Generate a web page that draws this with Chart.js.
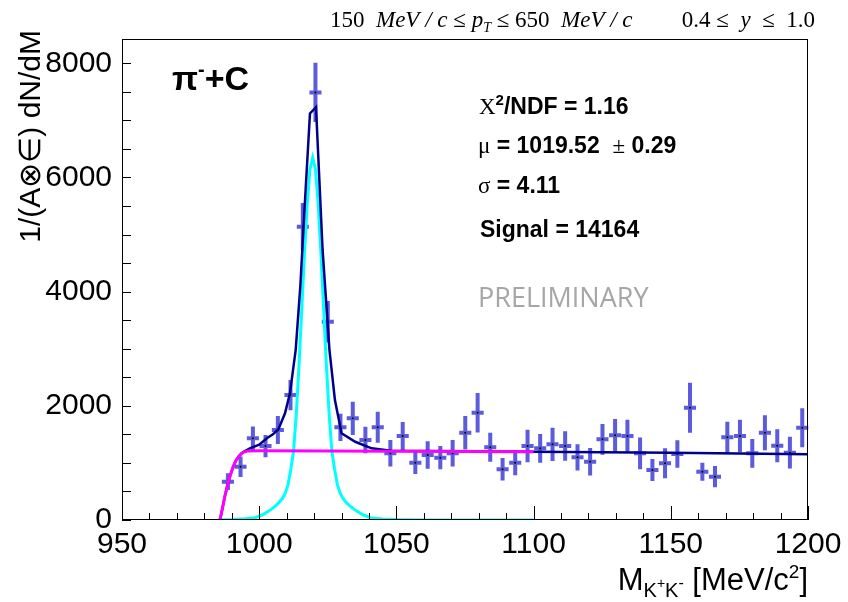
<!DOCTYPE html>
<html>
<head>
<meta charset="utf-8">
<script src="https://cdn.jsdelivr.net/npm/chart.js@4.4.0/dist/chart.umd.min.js"></script>
<style>
  body { margin: 0; background: #fff; }
</style>
</head>
<body>
<canvas id="massChart" width="848" height="602"></canvas>
<script>
// K+K- invariant mass histogram (bin centres in MeV/c^2)
const binCenters = [988.6, 993.2, 997.7, 1002.3, 1006.8, 1011.4, 1015.9, 1020.5, 1025.0, 1029.6,
  1034.1, 1038.7, 1043.2, 1047.8, 1052.3, 1056.9, 1061.4, 1066.0, 1070.5, 1075.1,
  1079.6, 1084.2, 1088.7, 1093.3, 1097.8, 1102.4, 1106.9, 1111.5, 1116.0, 1120.6,
  1125.1, 1129.7, 1134.2, 1138.8, 1143.3, 1147.9, 1152.4, 1157.0, 1161.5, 1166.1,
  1170.6, 1175.2, 1179.7, 1184.3, 1188.8, 1193.4, 1197.9];
const binHalfWidth = 2.2;
const counts = [671, 934, 1431, 1296, 1576, 2189, 5137, 7490, 3473, 1623,
  1781, 1401, 1623, 1168, 1471, 1003, 1138, 1091, 1168, 1529,
  1879, 1273, 888, 1003, 1296, 1255, 1325, 1296, 1097, 1021,
  1413, 1483, 1471, 1168, 876, 993, 1156, 1967, 846, 759,
  1448, 1471, 1168, 1529, 1301, 1179, 1617];
const countErrors = [146, 180, 205, 195, 245, 265, 415, 517, 365, 240,
  290, 233, 271, 233, 245, 198, 240, 204, 233, 292,
  345, 254, 196, 219, 286, 251, 292, 257, 231, 240,
  268, 284, 284, 277, 193, 263, 242, 438, 158, 187,
  271, 286, 251, 306, 289, 277, 341];

// fit curves
const signalX = [985, 990, 995, 998.5, 1001.5, 1004.5, 1006.5, 1008.5, 1009.5, 1010.5,
  1011.5, 1012.5, 1013.5, 1014.5, 1015.5, 1016.5, 1017.5, 1018.5, 1019.5, 1020.5,
  1021.5, 1022.5, 1023.5, 1024.5, 1025.5, 1026.5, 1027.5, 1028.5, 1029.5, 1030.5,
  1031.5, 1032.5, 1034.5, 1037.5, 1040.5, 1045, 1050, 1060, 1070, 1100];
const signalY = [5, 9, 22, 40, 100, 190, 270, 380, 470, 620,
  880, 1200, 1850, 2700, 3680, 4670, 5540, 6140, 6350, 6140,
  5540, 4670, 3680, 2700, 1850, 1200, 880, 620, 470, 380,
  320, 270, 190, 100, 40, 16, 7, 2, 0.5, 0];

const bkgX = [985.7, 986.5, 987.5, 988.5, 989.5, 990.5, 991.5, 992.5, 993.5, 994.5,
  996, 1000, 1050, 1100];
const bkgY = [0, 180, 420, 620, 790, 930, 1040, 1110, 1160, 1190,
  1210, 1212, 1206, 1195];

const totalX = [985.7, 986.5, 987.5, 988.5, 989.5, 990.5, 991.5, 992.5, 993.5, 994.5,
  996.6, 1000, 1002.8, 1005, 1007, 1009.4, 1011.2, 1013.3, 1015.0, 1016.7,
  1018.5, 1020.7, 1023.1, 1025.6, 1027.6, 1030, 1035, 1041, 1048, 1060,
  1080, 1100, 1150, 1200];
const totalY = [0, 180, 420, 620, 790, 930, 1040, 1110, 1165, 1200,
  1255, 1320, 1431, 1500, 1590, 1868, 2219, 2980, 4100, 5600,
  7120, 7230, 4730, 2980, 2100, 1520, 1370, 1255, 1212, 1207,
  1203, 1195, 1176, 1150];

const xTickLabels = [950, 1000, 1050, 1100, 1150, 1200];
const yTickLabels = [0, 2000, 4000, 6000, 8000];

const SANS = "'Liberation Sans', Arial, sans-serif";
const SERIF = "'Liberation Serif', 'Times New Roman', serif";

function toPoints(xs, ys) {
  return xs.map((x, i) => ({ x: x, y: ys[i] }));
}

function drawRich(ctx, x, y, parts, align) {
  let w = 0;
  parts.forEach(p => { ctx.font = p[1]; w += ctx.measureText(p[0]).width; });
  let cx = x;
  if (align === 'right') cx = x - w;
  if (align === 'center') cx = x - w / 2;
  parts.forEach(p => {
    ctx.font = p[1];
    ctx.fillText(p[0], cx, y + (p[2] || 0));
    cx += ctx.measureText(p[0]).width;
  });
}

// error bars drawn under the fit curves
const errorBars = {
  id: 'errorBars',
  beforeDatasetsDraw(chart) {
    const ctx = chart.ctx, xs = chart.scales.x, ys = chart.scales.y;
    ctx.save();
    ctx.strokeStyle = 'rgba(62, 62, 214, 0.85)';
    ctx.lineWidth = 4;
    ctx.lineCap = 'butt';
    for (let i = 0; i < counts.length; i++) {
      const px = xs.getPixelForValue(binCenters[i]);
      const py = ys.getPixelForValue(counts[i]);
      ctx.beginPath();
      ctx.moveTo(px, ys.getPixelForValue(counts[i] - countErrors[i]));
      ctx.lineTo(px, ys.getPixelForValue(counts[i] + countErrors[i]));
      ctx.moveTo(xs.getPixelForValue(binCenters[i] - binHalfWidth), py);
      ctx.lineTo(xs.getPixelForValue(binCenters[i] + binHalfWidth), py);
      ctx.stroke();
    }
    ctx.restore();
  }
};

// ROOT style frame, inward ticks and all the labels
const frameAndText = {
  id: 'frameAndText',
  afterDraw(chart) {
    const ctx = chart.ctx, xs = chart.scales.x, ys = chart.scales.y;
    const a = chart.chartArea;
    ctx.save();
    ctx.strokeStyle = '#000';
    ctx.lineWidth = 1;
    ctx.strokeRect(a.left + 0.5, a.top + 0.5, a.right - a.left - 1, a.bottom - a.top - 1);

    ctx.beginPath();
    for (let v = 950; v <= 1200; v += 10) {
      const px = Math.round(xs.getPixelForValue(v)) + 0.5;
      const len = (v % 50 === 0) ? 14 : 7;
      ctx.moveTo(px, a.bottom);
      ctx.lineTo(px, a.bottom - len);
    }
    for (let v = 0; v <= 8000; v += 500) {
      const py = Math.round(ys.getPixelForValue(v)) + 0.5;
      ctx.moveTo(a.left, py);
      ctx.lineTo(a.left + 9, py);
    }
    ctx.stroke();

    ctx.fillStyle = '#000';
    ctx.font = '30px ' + SANS;
    ctx.textAlign = 'center';
    ctx.textBaseline = 'alphabetic';
    xTickLabels.forEach(v => ctx.fillText(String(v), xs.getPixelForValue(v), 553));
    ctx.textAlign = 'right';
    ctx.textBaseline = 'middle';
    yTickLabels.forEach(v => ctx.fillText(String(v), 112, ys.getPixelForValue(v)));

    ctx.textAlign = 'left';
    ctx.textBaseline = 'alphabetic';

    // axis titles
    drawRich(ctx, 808, 590, [
      ['M', '31px ' + SANS],
      ['K', '20px ' + SANS, 7],
      ['+', '14px ' + SANS, -2],
      ['K', '20px ' + SANS, 7],
      ['-', '16px ' + SANS, -2],
      [' [MeV/c', '31px ' + SANS],
      ['2', '19px ' + SANS, -12],
      [']', '31px ' + SANS]
    ], 'right');

    ctx.save();
    ctx.translate(40, 30);
    ctx.rotate(-Math.PI / 2);
    drawRich(ctx, 0, 0, [['1/(A\u2297\u2208) dN/dM', '30px ' + SANS]], 'right');
    ctx.restore();

    // kinematic range on top
    drawRich(ctx, 330, 27, [
      ['150  ', '23px ' + SERIF],
      ['MeV / c', 'italic 23px ' + SERIF],
      [' \u2264 ', '23px ' + SERIF],
      ['p', 'italic 23px ' + SERIF],
      ['T', 'italic 14px ' + SERIF, 5],
      [' \u2264 650  ', '23px ' + SERIF],
      ['MeV / c', 'italic 23px ' + SERIF]
    ]);
    drawRich(ctx, 815, 27, [
      ['0.4 \u2264  ', '23px ' + SERIF],
      ['y', 'italic 23px ' + SERIF],
      ['  \u2264  1.0', '23px ' + SERIF]
    ], 'right');

    // reaction label
    drawRich(ctx, 172, 90, [
      ['\u03c0', 'bold 34px ' + SANS],
      ['-', 'bold 20px ' + SANS, -14],
      ['+C', 'bold 34px ' + SANS]
    ]);

    // fit results
    drawRich(ctx, 479, 114, [
      ['\u03a7', '23px ' + SERIF],
      ['2', 'bold 15px ' + SANS, -9],
      ['/NDF = 1.16', 'bold 23px ' + SANS]
    ]);
    drawRich(ctx, 478, 153, [
      ['\u03bc', '23px ' + SERIF],
      [' = 1019.52  ', 'bold 23px ' + SANS],
      ['\u00b1', '23px ' + SERIF],
      [' 0.29', 'bold 23px ' + SANS]
    ]);
    drawRich(ctx, 478, 193, [
      ['\u03c3', '23px ' + SERIF],
      [' = 4.11', 'bold 23px ' + SANS]
    ]);
    drawRich(ctx, 480, 237, [['Signal = 14164', 'bold 23px ' + SANS]]);

    ctx.fillStyle = '#a6a6a6';
    drawRich(ctx, 478, 307, [['PRELIMINARY', "27px 'Open Sans', sans-serif"]]);
    ctx.restore();
  }
};

new Chart(document.getElementById('massChart').getContext('2d'), {
  type: 'scatter',
  data: {
    datasets: [
      {
        label: 'background',
        data: toPoints(bkgX, bkgY),
        showLine: true,
        borderColor: '#ff00ff',
        borderWidth: 3,
        pointRadius: 0,
        order: 1
      },
      {
        label: 'total fit',
        data: toPoints(totalX, totalY),
        showLine: true,
        borderColor: '#00008b',
        borderWidth: 2.5,
        pointRadius: 0,
        order: 2
      },
      {
        label: 'signal',
        data: toPoints(signalX, signalY),
        showLine: true,
        borderColor: '#00ffff',
        borderWidth: 3,
        pointRadius: 0,
        order: 3
      },
      {
        label: 'data',
        data: toPoints(binCenters, counts),
        pointRadius: 1,
        pointBorderWidth: 0,
        pointBackgroundColor: '#000',
        order: 4
      }
    ]
  },
  options: {
    responsive: false,
    animation: false,
    layout: { padding: { left: 122, top: 39, right: 40, bottom: 82 } },
    scales: {
      x: { type: 'linear', min: 950, max: 1200, display: false },
      y: { type: 'linear', min: 0, max: 8425, display: false }
    },
    plugins: {
      legend: { display: false },
      tooltip: { enabled: false }
    }
  },
  plugins: [errorBars, frameAndText]
});
</script>
</body>
</html>
